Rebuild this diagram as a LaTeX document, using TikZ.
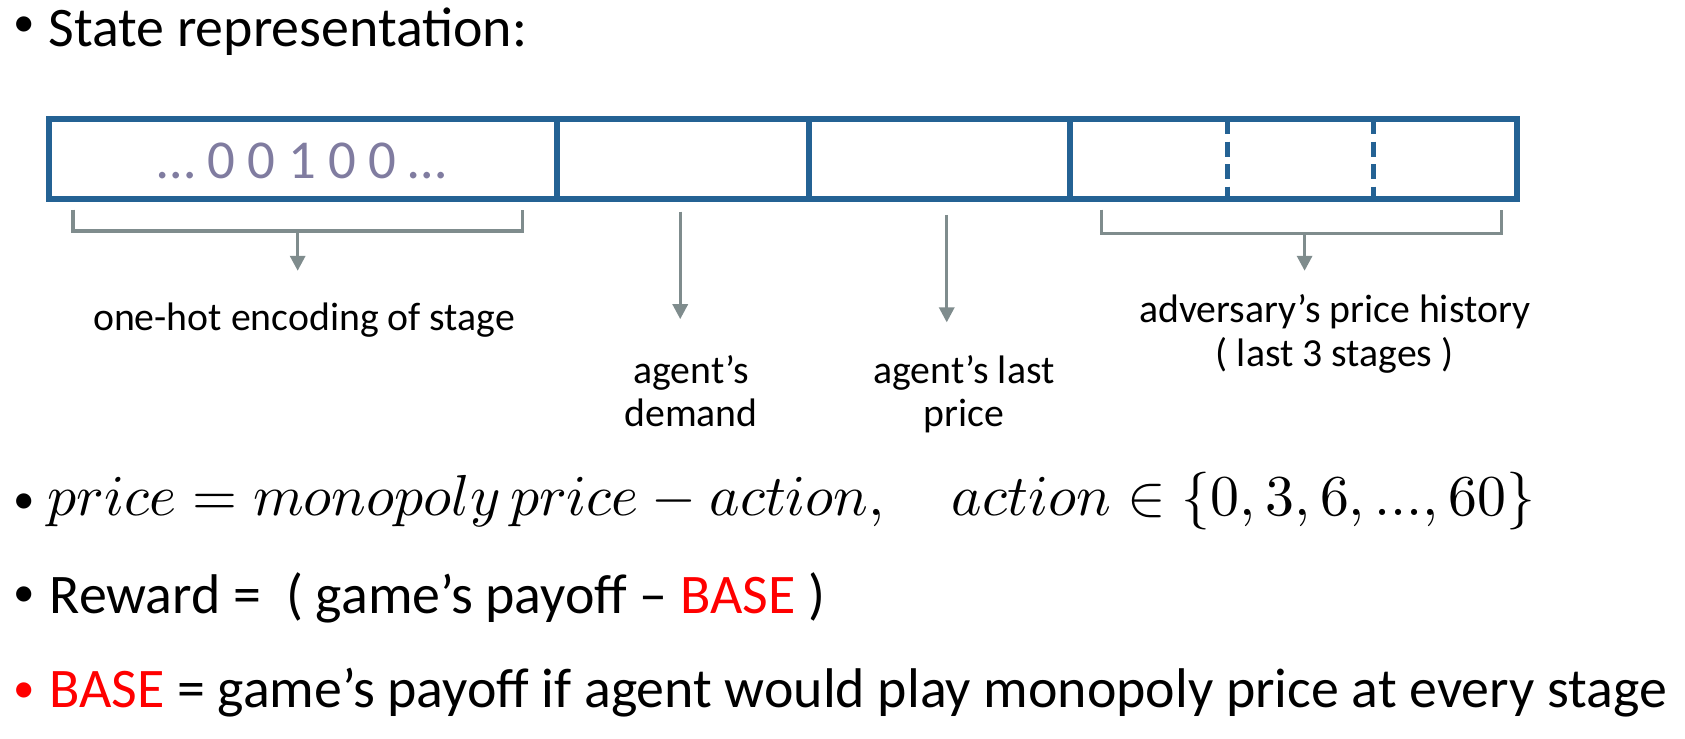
\documentclass[tikz,border=0pt]{standalone}
\usepackage[no-math]{fontspec}
\setmainfont{Carlito}
\usepackage{graphicx}
\usetikzlibrary{arrows.meta}
\definecolor{boxblue}{RGB}{36,98,148}
\definecolor{arrgray}{RGB}{127,140,141}
\definecolor{digitcol}{RGB}{128,124,160}
\definecolor{basered}{RGB}{255,0,0}
\tikzset{
  boxline/.style={draw=boxblue, line width=5.5pt},
  dashdiv/.style={draw=boxblue, line width=4.5pt, dash pattern=on 14pt off 7pt},
  bracketline/.style={draw=arrgray, line width=3pt},
  arrowline/.style={draw=arrgray, line width=3pt, -{Triangle[width=14pt,length=14pt]}},
  big/.style={font=\fontsize{52}{60}\selectfont, inner sep=0pt, anchor=base west},
  bul/.style={font=\fontsize{40}{44}\selectfont, inner sep=0pt, anchor=base west},
  lab/.style={font=\fontsize{37}{42}\selectfont, inner sep=0pt, anchor=base},
}
\begin{document}
\begin{tikzpicture}[x=1pt,y=-1pt]
\useasboundingbox (0,0) rectangle (1568,687);
% state vector
\draw[boxline] (45.75,110.75) rectangle (1411.25,185.25);
\draw[boxline] (518,110.75) -- (518,185.25);
\draw[boxline] (753,110.75) -- (753,185.25);
\draw[boxline] (996,110.75) -- (996,185.25);
\draw[dashdiv] (1142,110.75) -- (1142,185.25);
\draw[dashdiv] (1278,110.75) -- (1278,185.25);
\node[font=\fontsize{51}{60}\selectfont, text=digitcol, inner sep=0pt, anchor=base] (bits) at (281,166) {\ldots\ 0 0 1 0 0 \ldots};
% coordinates
\coordinate (b1l) at (68,195);
\coordinate (b1r) at (486,195);
\coordinate (b1m) at (277,215);
\coordinate (b1t) at (277,252);
\coordinate (a2s) at (633,197);
\coordinate (a2t) at (633,297);
\coordinate (a3s) at (881,200);
\coordinate (a3t) at (881,300);
\coordinate (b3l) at (1025,195);
\coordinate (b3r) at (1397,195);
\coordinate (b3m) at (1214,217);
\coordinate (b3t) at (1214,252);
\draw[bracketline] (b1l) |- (b1m) -| (b1r);
\draw[arrowline] (b1m) -- (b1t);
\draw[bracketline] (b3l) |- (b3m) -| (b3r);
\draw[arrowline] (b3m) -- (b3t);
\draw[arrowline] (a2s) -- (a2t);
\draw[arrowline] (a3s) -- (a3t);
% labels
\node[lab] (l1) at (283,308) {one-hot encoding of stage};
\node[lab] (l2a) at (643,357) {agent’s};
\node[lab] (l2b) at (643,397) {demand};
\node[lab] (l3a) at (897,357) {agent’s last};
\node[lab] (l3b) at (897,397) {price};
\node[lab] (l4a) at (1242,300) {adversary’s price history};
\node[lab] (l4b) at (1242,341) {( last 3 stages )};
% bullets and lines
\node[bul] (t1b) at (12,34) {•};
\node[big] (t1) at (45,43) {State representation:};
\node[bul] (t2b) at (12,478) {•};
\node[inner sep=0pt, anchor=base west] (t2) at (44,480) {\resizebox{1384pt}{!}{$price = monopoly\,price - action, \quad action \in \{0,3,6,...,60\}$}};
\node[bul] (t3b) at (12,564) {•};
\node[big] (t3) at (46,571) {Reward =~ ( game’s payoff – \textcolor{basered}{BASE} )};
\node[bul, text=basered] (t4b) at (12,654) {•};
\node[big] (t4) at (46,658) {\textcolor{basered}{BASE} = game’s payoff if agent would play monopoly price at every stage};
\end{tikzpicture}
\end{document}
